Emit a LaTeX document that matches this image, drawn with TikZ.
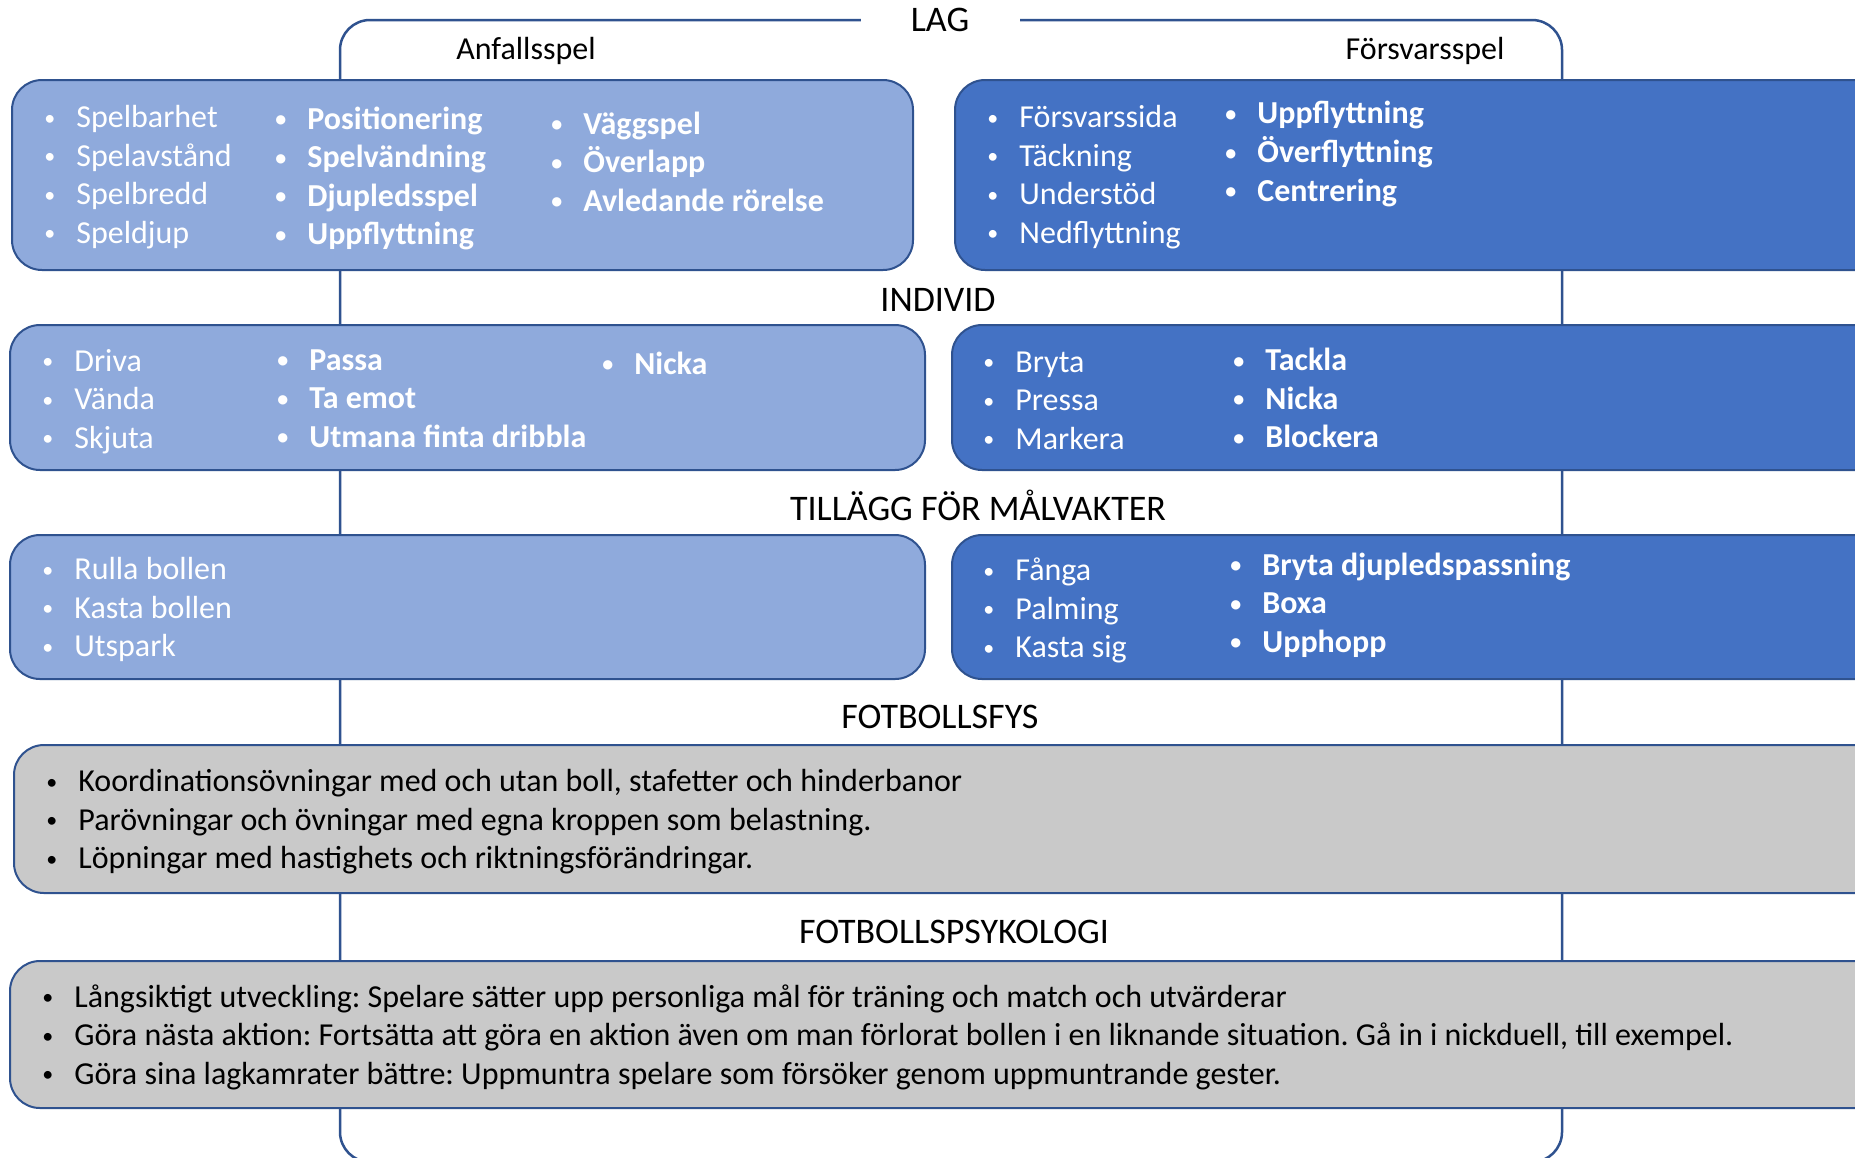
\documentclass[tikz,border=0pt]{standalone}
\usepackage{fontspec}
\setmainfont{Carlito}
\definecolor{lagBlueLight}{RGB}{143,170,220}
\definecolor{lagBlue}{RGB}{68,114,196}
\definecolor{lagBlueDark}{RGB}{47,82,143}
\definecolor{fysGrey}{RGB}{201,201,201}
\frenchspacing
\newcommand{\itm}[1]{\makebox[15.5pt][l]{\hspace{-0.5pt}\raisebox{1.2pt}{\fontsize{11}{11}\selectfont\textbullet}}#1}

\begin{document}
\begin{tikzpicture}[x=0.5pt,y=-0.5pt,
  panel/.style={draw=lagBlueDark,line width=1pt,rounded corners=15pt,inner sep=0pt},
  lightpanel/.style={panel,fill=lagBlueLight},
  darkpanel/.style={panel,fill=lagBlue},
  greypanel/.style={panel,fill=fysGrey},
  items/.style={anchor=west,align=left,inner sep=0pt,text=white,font=\fontsize{16}{19.3}\selectfont},
  bolditems/.style={items,font=\fontsize{16}{19.3}\selectfont\bfseries},
  greyitems/.style={items,text=black},
  head/.style={inner sep=0pt,font=\fontsize{18}{20}\selectfont},
  subhead/.style={inner sep=0pt,font=\fontsize{16}{18}\selectfont}]
\clip (0,0) rectangle (1855,1157);
\fill[white] (0,0) rectangle (1855,1157);
% frame round everything
\node[draw=lagBlueDark,line width=1.25pt,rounded corners=15pt,minimum width=611pt,minimum height=571pt] (frame) at (951,591) {};
\node[head,fill=white,minimum width=79.5pt,minimum height=12pt] (lag) at (940,20) {LAG};
\node[subhead] (anfall) at (526,51) {Anfallsspel};
\node[subhead] (forsvar) at (1425,51) {Försvarsspel};
% lag
\node[lightpanel,minimum width=450.5pt,minimum height=95pt] (laganfall) at (462.5,175) {};
\node[darkpanel,minimum width=475pt,minimum height=95pt] (lagforsvar) at (1430,175) {};
\node[items] (la1) at (45,177) {\itm{Spelbarhet}\\\itm{Spelavstånd}\\\itm{Spelbredd}\\\itm{Speldjup}};
\node[bolditems] (la2) at (276,178.5) {\itm{Positionering}\\\itm{Spelvändning}\\\itm{Djupledsspel}\\\itm{Uppflyttning}};
\node[bolditems] (la3) at (552,161.5) {\itm{Väggspel}\\\itm{Överlapp}\\\itm{Avledande rörelse}};
\node[items] (lf1) at (988,177) {\itm{Försvarssida}\\\itm{Täckning}\\\itm{Understöd}\\\itm{Nedflyttning}};
\node[bolditems] (lf2) at (1226,154) {\itm{Uppflyttning}\\\itm{Överflyttning}\\\itm{Centrering}};
% individ
\node[head] (individ) at (938,300) {INDIVID};
\node[lightpanel,minimum width=457.5pt,minimum height=72.5pt] (indanfall) at (467.5,397.5) {};
\node[darkpanel,minimum width=476.5pt,minimum height=72.5pt] (indforsvar) at (1428.5,397.5) {};
\node[items] (ia1) at (43,401.5) {\itm{Driva}\\\itm{Vända}\\\itm{Skjuta}};
\node[bolditems] (ia2) at (278,398.5) {\itm{Passa}\\\itm{Ta emot}\\\itm{Utmana finta dribbla}};
\node[bolditems] (ia3) at (603,363) {\itm{Nicka}};
\node[items] (if1) at (984,400.5) {\itm{Bryta}\\\itm{Pressa}\\\itm{Markera}};
\node[bolditems] (if2) at (1234,398) {\itm{Tackla}\\\itm{Nicka}\\\itm{Blockera}};
% malvakter
\node[head] (malvakt) at (978,505) {TILLÄGG FÖR MÅLVAKTER};
\node[lightpanel,minimum width=457.5pt,minimum height=72pt] (mvanfall) at (467.5,607) {};
\node[darkpanel,minimum width=476.5pt,minimum height=72pt] (mvforsvar) at (1428.5,607) {};
\node[items] (ma1) at (43,609.5) {\itm{Rulla bollen}\\\itm{Kasta bollen}\\\itm{Utspark}};
\node[items] (mf1) at (984,610.5) {\itm{Fånga}\\\itm{Palming}\\\itm{Kasta sig}};
\node[bolditems] (mf2) at (1231,605) {\itm{Bryta djupledspassning}\\\itm{Boxa}\\\itm{Upphopp}};
% fys och psykologi
\node[head] (fys) at (940,717) {FOTBOLLSFYS};
\node[greypanel,minimum width=945.5pt,minimum height=74pt] (fyspanel) at (959.5,819) {};
\node[greyitems] (fystext) at (47,822) {\itm{Koordinationsövningar med och utan boll, stafetter och hinderbanor}\\\itm{Parövningar och övningar med egna kroppen som belastning.}\\\itm{Löpningar med hastighets och riktningsförändringar.}};
\node[head] (psyk) at (954,932) {FOTBOLLSPSYKOLOGI};
\node[greypanel,minimum width=947.5pt,minimum height=73.5pt] (psykpanel) at (957.5,1034.5) {};
\node[greyitems] (psyktext) at (43,1037) {\itm{Långsiktigt utveckling: Spelare sätter upp personliga mål för träning och match och utvärderar}\\\itm{Göra nästa aktion: Fortsätta att göra en aktion även om man förlorat bollen i en liknande situation. Gå in i nickduell, till exempel.}\\\itm{Göra sina lagkamrater bättre: Uppmuntra spelare som försöker genom uppmuntrande gester.}};
\end{tikzpicture}
\end{document}
